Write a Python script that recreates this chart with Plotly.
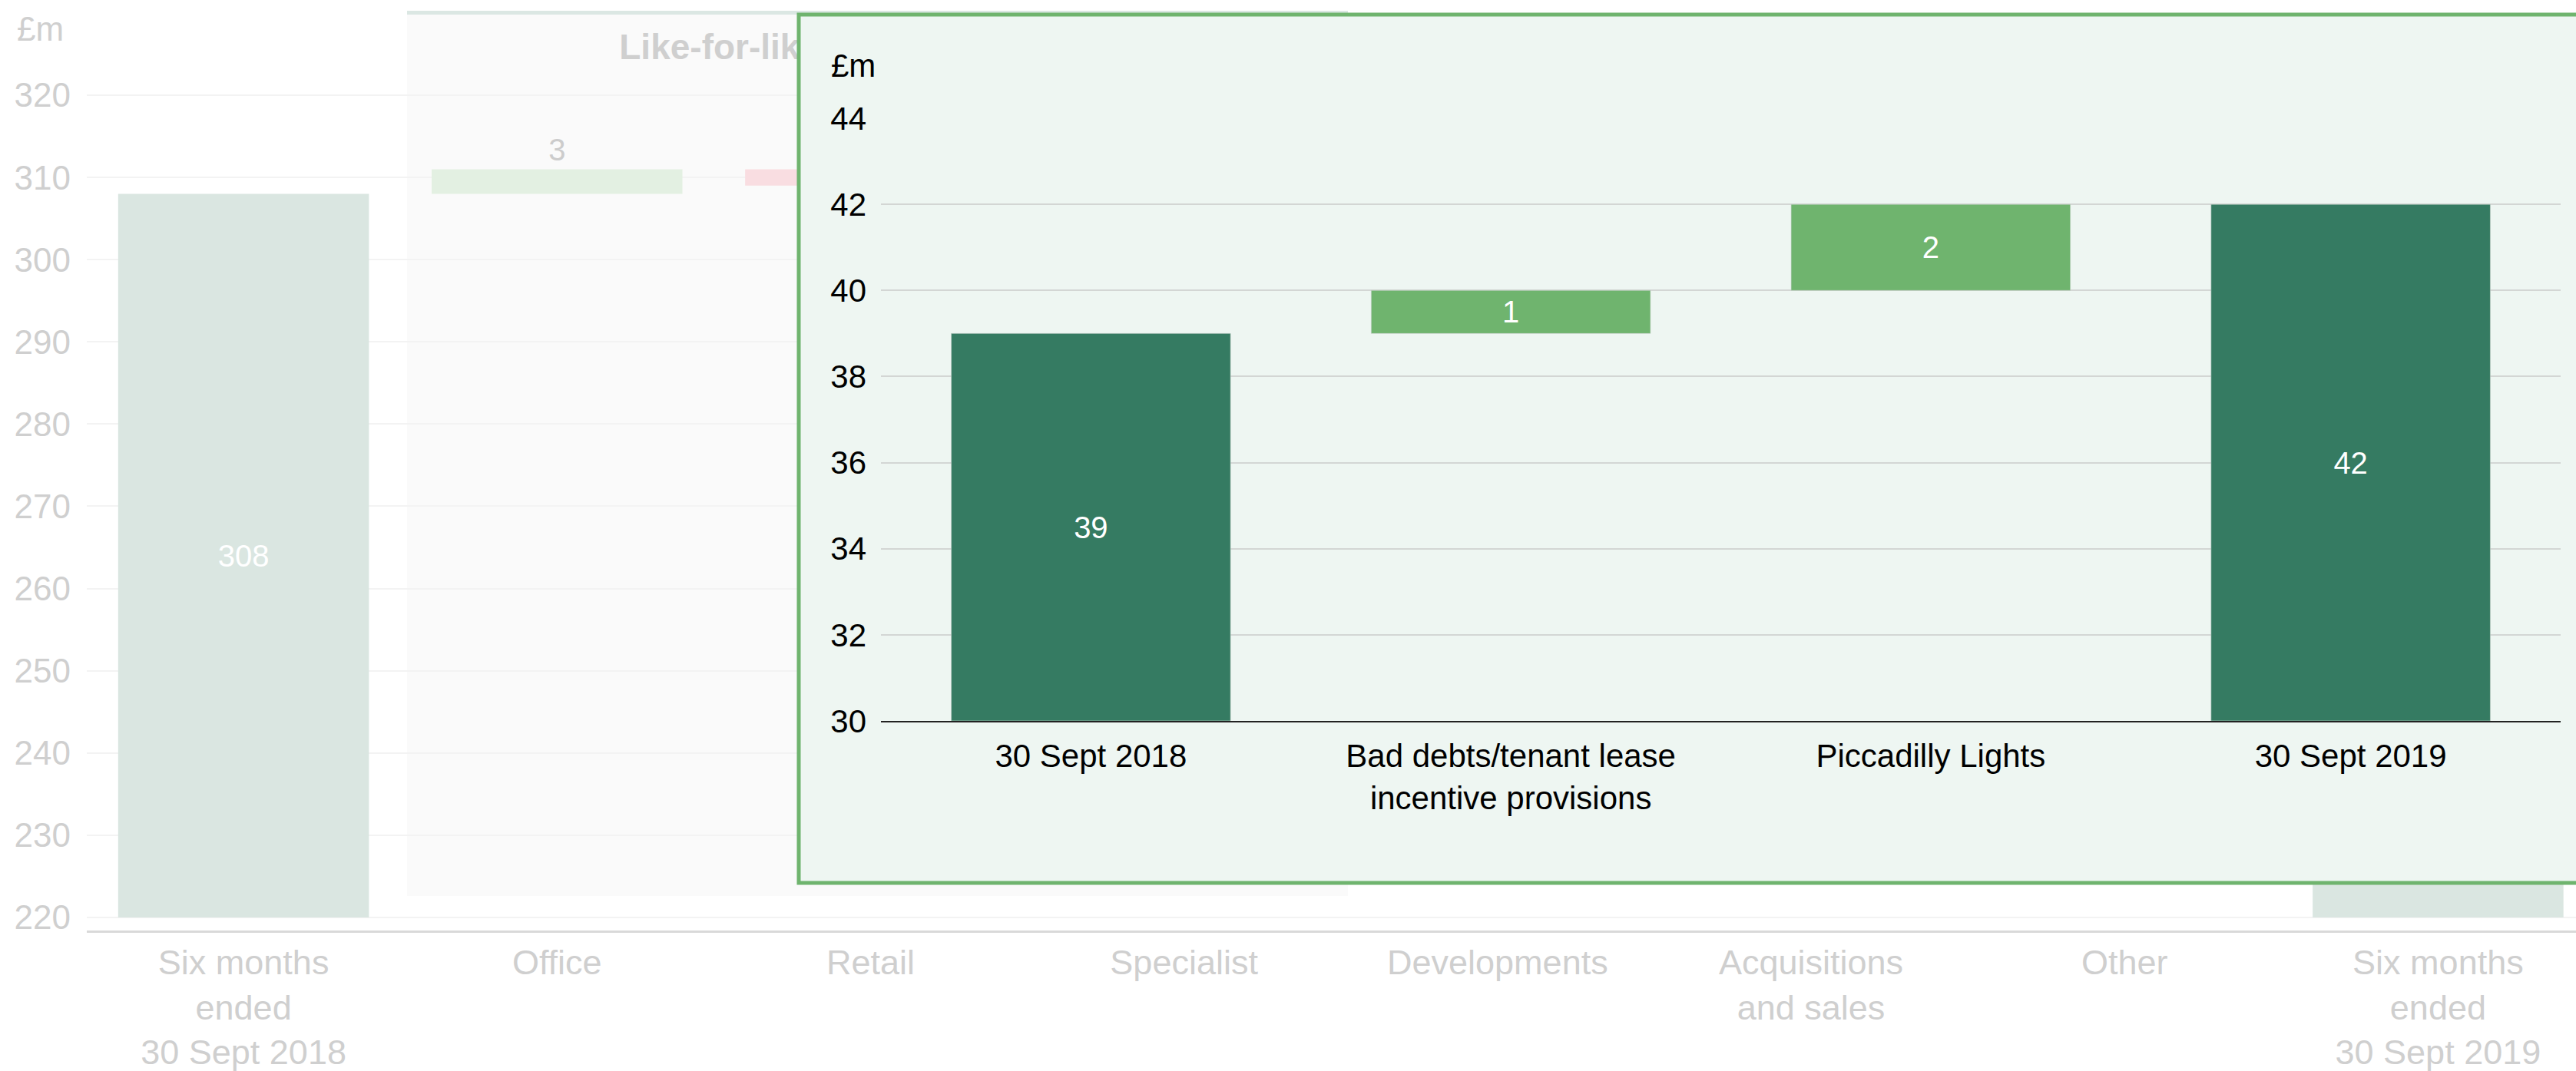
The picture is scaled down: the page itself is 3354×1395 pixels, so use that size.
import plotly.graph_objects as go

W, H = 3354, 1395
FONT = "Liberation Sans, Arial, sans-serif"

# ---- background bridge: six months to 30 Sept 2018 -> 30 Sept 2019 ----
bg_categories = [
    "Six months<br>ended<br>30 Sept 2018", "Office", "Retail", "Specialist",
    "Developments", "Acquisitions<br>and sales", "Other",
    "Six months<br>ended<br>30 Sept 2019",
]
bg_start = 308
bg_changes = [3, -2, 1, 3, -8, -1]
bg_ticks = [220, 230, 240, 250, 260, 270, 280, 290, 300, 310, 320]
bg_floor = 220
bg_header = "Like-for-like net rental income"

# ---- inset bridge ----
inset_categories = [
    "30 Sept 2018", "Bad debts/tenant lease<br>incentive provisions",
    "Piccadilly Lights", "30 Sept 2019",
]
inset_start = 39
inset_changes = [1, 2]
inset_ticks = [30, 32, 34, 36, 38, 40, 42, 44]

# colours
BG_TOTAL, BG_UP, BG_DOWN = "#dae6e1", "#e3f0e2", "#f9dde1"
BG_TEXT = "#cccccc"
DARK, LIGHT = "#357b62", "#6fb46e"
PANEL, PANEL_EDGE = "#eef6f2", "#6fb46e"


def px_x(p):
    return p / W


def px_y(p):
    return 1 - p / H


def bridge(start, changes, floor):
    """Bases, heights, labels and bar kinds for a waterfall built from plain bars."""
    bases, heights, labels, kinds = [floor], [start - floor], [str(start)], ["total"]
    running = start
    for d in changes:
        bases.append(running)
        heights.append(d)
        labels.append(str(d))
        kinds.append("up" if d >= 0 else "down")
        running += d
    bases.append(floor)
    heights.append(running - floor)
    labels.append(str(running))
    kinds.append("total")
    return bases, heights, labels, kinds


fig = go.Figure()

# background chart (subplot x/y)
b_base, b_h, b_lab, b_kind = bridge(bg_start, bg_changes, bg_floor)
bg_colors = [{"total": BG_TOTAL, "up": BG_UP, "down": BG_DOWN}[k] for k in b_kind]
fig.add_trace(go.Bar(
    x=bg_categories, y=b_h, base=b_base, width=0.8,
    marker=dict(color=bg_colors, line=dict(width=0)),
    text=b_lab,
    textposition=["inside" if k == "total" else "outside" for k in b_kind],
    insidetextanchor="middle",
    textfont=dict(family=FONT, size=40,
                  color=["#ffffff" if k == "total" else BG_TEXT for k in b_kind]),
    constraintext="none", cliponaxis=False,
    xaxis="x", yaxis="y", hoverinfo="skip",
))
fig.add_trace(go.Scatter(
    x=[bg_categories[2]], y=[325.5], mode="text", text=[f"<b>{bg_header}</b>"],
    textposition="middle center",
    textfont=dict(family=FONT, size=46, color="#cfcfcf"),
    xaxis="x", yaxis="y", hoverinfo="skip", cliponaxis=False,
))

# panel layer (subplot x2/y2) carries the inset's box
fig.add_trace(go.Scatter(x=[], y=[], xaxis="x2", yaxis="y2", hoverinfo="skip"))

# inset chart (subplot x3/y3)
i_base, i_h, i_lab, i_kind = bridge(inset_start, inset_changes, inset_ticks[0])
fig.add_trace(go.Bar(
    x=inset_categories, y=i_h, base=i_base, width=0.665,
    marker=dict(color=[DARK if k == "total" else LIGHT for k in i_kind],
                line=dict(width=1, color="rgba(200,210,205,0.6)")),
    text=i_lab, textposition="inside", insidetextanchor="middle",
    textfont=dict(family=FONT, size=40, color="#ffffff"),
    constraintext="none",
    xaxis="x3", yaxis="y3", hoverinfo="skip",
))

bg_lo = 218.41
bg_hi = 331.58

fig.update_layout(
    template="none",
    width=W, height=H, autosize=False,
    margin=dict(l=0, r=0, t=0, b=0, pad=0),
    paper_bgcolor="#ffffff", plot_bgcolor="rgba(0,0,0,0)",
    showlegend=False, hovermode=False, bargap=0.2,
    font=dict(family=FONT),
    xaxis=dict(
        domain=[px_x(113), 1], range=[-0.5, 7.44], anchor="y", automargin=False,
        type="category", showgrid=False, zeroline=False,
        showline=True, linecolor="#d9d9d9", linewidth=3,
        ticks="", ticklabelstandoff=0,
        tickfont=dict(family=FONT, size=45, color="#cfcfcf"),
    ),
    yaxis=dict(
        domain=[px_y(1212), 1], range=[bg_lo, bg_hi], anchor="x", automargin=False,
        tickvals=bg_ticks, showgrid=True, gridcolor="#f3f3f3", gridwidth=2,
        zeroline=False, showline=False, ticks="", ticklabelstandoff=20,
        tickfont=dict(family=FONT, size=44, color="#cfcfcf"),
    ),
    xaxis2=dict(domain=[px_x(1036), 1], range=[0, 1], anchor="y2",
                visible=False, automargin=False),
    yaxis2=dict(domain=[px_y(1154), px_y(15)], range=[0, 1], anchor="x2",
                visible=False, automargin=False),
    xaxis3=dict(
        domain=[px_x(1147), px_x(3334)], range=[-0.5, 3.5], anchor="y3",
        automargin=False, type="category", showgrid=False, zeroline=False,
        showline=True, linecolor="#222222", linewidth=2,
        ticks="", ticklabelstandoff=8,
        tickfont=dict(family=FONT, size=42, color="#000000"),
    ),
    yaxis3=dict(
        domain=[px_y(939), px_y(154)], range=[inset_ticks[0], inset_ticks[-1]],
        anchor="x3", automargin=False, tickvals=inset_ticks,
        showgrid=True, gridcolor="#d3d6d4", gridwidth=2,
        zeroline=False, showline=False, ticks="", ticklabelstandoff=18,
        tickfont=dict(family=FONT, size=42, color="#000000"),
    ),
    shapes=[
        # like-for-like shaded band behind the background chart
        dict(type="rect", xref="paper", yref="paper", layer="below",
             x0=px_x(530), x1=px_x(1755), y0=px_y(1167), y1=px_y(14),
             fillcolor="#fafafa", line=dict(width=0)),
        dict(type="rect", xref="paper", yref="paper", layer="below",
             x0=px_x(530), x1=px_x(1755), y0=px_y(19), y1=px_y(14),
             fillcolor="#dbe7e3", line=dict(width=0)),
        # inset panel box, drawn in the panel subplot so it covers the background
        dict(type="rect", xref="x2", yref="y2", layer="below",
             x0=4 / (W - 1036), x1=1.2, y0=4 / 1139, y1=1 - 4 / 1139,
             fillcolor=PANEL, line=dict(color=PANEL_EDGE, width=5)),
    ],
    annotations=[
        dict(text="£m", xref="paper", yref="paper", x=px_x(20), y=px_y(38),
             xanchor="left", yanchor="middle", showarrow=False,
             font=dict(family=FONT, size=44, color="#cfcfcf")),
        dict(text="£m", xref="paper", yref="paper", x=px_x(1080), y=px_y(85),
             xanchor="left", yanchor="middle", showarrow=False,
             font=dict(family=FONT, size=42, color="#000000")),
    ],
)

fig.write_html("out.html")
